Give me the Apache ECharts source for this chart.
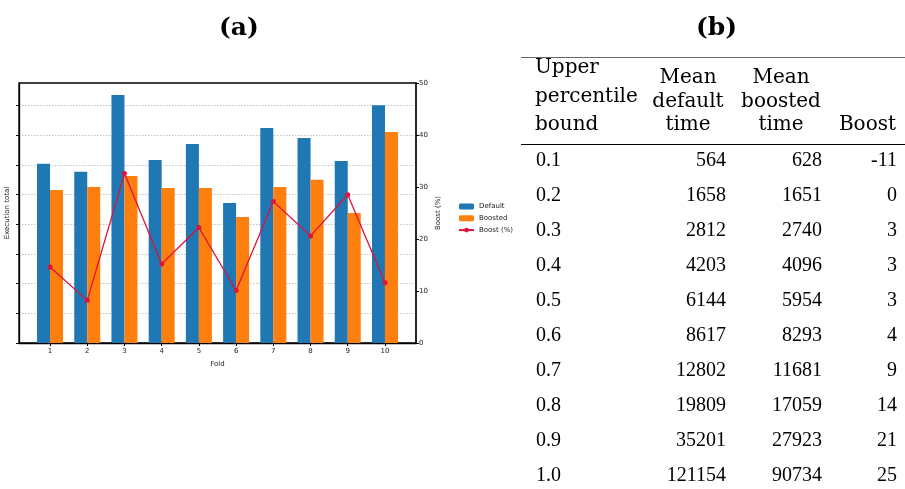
<!DOCTYPE html>
<html>
<head>
<meta charset="utf-8">
<script src="https://cdn.jsdelivr.net/npm/echarts@6/dist/echarts.min.js"></script>
<style>
html,body{margin:0;padding:0;background:#fff;}
#c{width:905px;height:489px;}
</style>
</head>
<body>
<div id="c"></div>
<script>
// ---- Panel (a) data ----
const folds = [1, 2, 3, 4, 5, 6, 7, 8, 9, 10];
const defaultTotals = [6.04, 5.77, 8.36, 6.17, 6.71, 4.72, 7.25, 6.91, 6.14, 8.02];
const boostedTotals = [5.16, 5.26, 5.63, 5.23, 5.23, 4.25, 5.26, 5.50, 4.38, 7.11];
const boostPct = [14.6, 8.2, 32.6, 15.2, 22.2, 10.1, 27.2, 20.6, 28.5, 11.6];
const boostTicks = [0, 10, 20, 30, 40, 50];

// ---- Panel (b) table data ----
const headerCol1 = ['Upper', 'percentile', 'bound'];
const headerCol2 = ['Mean', 'default', 'time'];
const headerCol3 = ['Mean', 'boosted', 'time'];
const headerCol4 = ['Boost'];
const tableBounds = ['0.1', '0.2', '0.3', '0.4', '0.5', '0.6', '0.7', '0.8', '0.9', '1.0'];
const tableDefault = [564, 1658, 2812, 4203, 6144, 8617, 12802, 19809, 35201, 121154];
const tableBoosted = [628, 1651, 2740, 4096, 5954, 8293, 11681, 17059, 27923, 90734];
const tableBoost = [-11, 0, 3, 3, 3, 4, 9, 14, 21, 25];

const chart = echarts.init(document.getElementById('c'), null, {renderer: 'canvas'});

const smallFont = {fontFamily: 'DejaVu Sans', fontSize: 7, color: '#222'};

// build table graphics (y values are text-box tops)
const g = [];
const numFont = '20px "Liberation Serif"';
const hdrFont = '20px "DejaVu Serif"';
const T = (x, y, text, font, align) => ({type: 'text', x: x, y: y, style: {text: text, font: font, fill: '#000', align: align, verticalAlign: 'top'}});
g.push({type: 'text', left: 219, top: 16, style: {text: '(a)', font: 'bold 25px "DejaVu Serif"', fill: '#000'}});
g.push({type: 'text', left: 696, top: 16, style: {text: '(b)', font: 'bold 25px "DejaVu Serif"', fill: '#000'}});
g.push({type: 'line', shape: {x1: 521, y1: 57.5, x2: 905, y2: 57.5}, style: {stroke: '#666', lineWidth: 1.2}});
g.push({type: 'line', shape: {x1: 521, y1: 144.5, x2: 905, y2: 144.5}, style: {stroke: '#000', lineWidth: 1.2}});
const col1Top = [58, 87, 115];
const col23Top = [68, 92, 115];
headerCol1.forEach((t, i) => g.push(T(535, col1Top[i], t, hdrFont, 'left')));
headerCol2.forEach((t, i) => g.push(T(688, col23Top[i], t, hdrFont, 'center')));
headerCol3.forEach((t, i) => g.push(T(781, col23Top[i], t, hdrFont, 'center')));
headerCol4.forEach((t) => g.push(T(896, 115, t, hdrFont, 'right')));
tableBounds.forEach((b, i) => {
  const y = 151 + i * 35;
  g.push(T(536, y, b, numFont, 'left'));
  g.push(T(726, y, String(tableDefault[i]), numFont, 'right'));
  g.push(T(822, y, String(tableBoosted[i]), numFont, 'right'));
  g.push(T(897, y, String(tableBoost[i]), numFont, 'right'));
});

const option = {
  animation: false,
  backgroundColor: '#fff',
  grid: {left: 19, right: 489, top: 83, bottom: 146, show: true, borderColor: '#000', borderWidth: 1.3, backgroundColor: 'transparent'},
  legend: {
    orient: 'vertical', left: 453, top: 198,
    itemWidth: 15, itemHeight: 6, itemGap: 4.8,
    textStyle: smallFont,
    data: ['Default', 'Boosted', 'Boost (%)']
  },
  xAxis: {
    type: 'value', min: 0.166, max: 10.834,
    name: 'Fold', nameLocation: 'middle', nameGap: 18, nameTextStyle: smallFont,
    axisLine: {show: true, lineStyle: {color: '#000', width: 1.3}},
    axisTick: {show: true, inside: false, length: 3, customValues: folds, lineStyle: {color: '#000'}},
    axisLabel: {show: true, customValues: folds, margin: 5, ...smallFont},
    splitLine: {show: false}
  },
  yAxis: [
    {
      type: 'value', min: 0, max: 8.766, interval: 1, position: 'left',
      name: 'Execution total', nameLocation: 'middle', nameGap: 8, nameRotate: 90, nameTextStyle: smallFont,
      axisLine: {show: true, lineStyle: {color: '#000', width: 1.3}},
      axisTick: {show: true, length: 3, customValues: [0, 1, 2, 3, 4, 5, 6, 7, 8], lineStyle: {color: '#000'}},
      axisLabel: {show: false},
      splitLine: {show: true, lineStyle: {color: '#c4c4c4', type: [1.5, 1.5], width: 1}}
    },
    {
      type: 'value', min: 0, max: 50, interval: 10, position: 'right',
      name: 'Boost (%)', nameLocation: 'middle', nameGap: 19, nameRotate: 90, nameTextStyle: smallFont,
      axisLine: {show: true, lineStyle: {color: '#222', width: 1.8}},
      axisTick: {show: true, length: 3, lineStyle: {color: '#000'}},
      axisLabel: {show: true, margin: 3, ...smallFont},
      splitLine: {show: false}
    }
  ],
  series: [
    {
      name: 'Default', type: 'bar', yAxisIndex: 0, barWidth: 13, barGap: '0%',
      itemStyle: {color: '#1f77b4'},
      data: folds.map((f, i) => [f, defaultTotals[i]])
    },
    {
      name: 'Boosted', type: 'bar', yAxisIndex: 0, barWidth: 13, barGap: '0%',
      itemStyle: {color: '#ff7f0e'},
      data: folds.map((f, i) => [f, boostedTotals[i]])
    },
    {
      name: 'Boost (%)', type: 'line', yAxisIndex: 1,
      symbol: 'circle', symbolSize: 5,
      lineStyle: {color: '#dc143c', width: 1.3},
      itemStyle: {color: '#dc143c'},
      z: 5,
      data: folds.map((f, i) => [f, boostPct[i]])
    }
  ],
  graphic: g
};
chart.setOption(option);
</script>
</body>
</html>
